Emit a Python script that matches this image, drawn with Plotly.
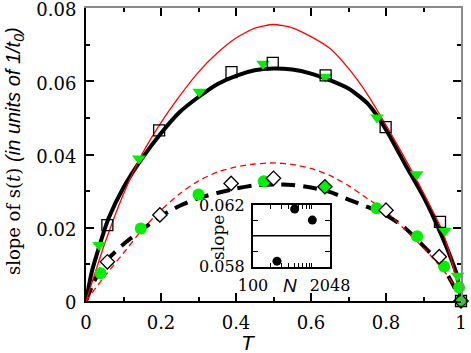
import plotly.graph_objects as go

# curves
t_fit = [0, 0.015, 0.035, 0.06, 0.1, 0.15, 0.2, 0.25, 0.3, 0.35, 0.4, 0.45, 0.5,
         0.55, 0.6, 0.65, 0.7, 0.75, 0.8, 0.85, 0.9, 0.95, 0.975, 0.99, 1.0]
s_fit = [0, 0.0078, 0.0148, 0.0225, 0.031, 0.039, 0.0458, 0.0516, 0.0557, 0.0592, 0.0615, 0.063, 0.0635,
         0.0632, 0.0621, 0.0603, 0.058, 0.054, 0.0468, 0.0375, 0.0285, 0.0175, 0.0112, 0.0068, 0]

t_fit2 = [0, 0.02, 0.05, 0.1, 0.15, 0.2, 0.25, 0.3, 0.35, 0.4, 0.45, 0.5,
          0.55, 0.6, 0.65, 0.7, 0.75, 0.8, 0.85, 0.9, 0.95, 0.98, 1.0]
s_fit2 = [0, 0.005, 0.0105, 0.0155, 0.0195, 0.0232, 0.026, 0.0281, 0.0295, 0.0307, 0.0316, 0.0318,
          0.0317, 0.031, 0.0298, 0.0277, 0.0257, 0.0235, 0.02, 0.015, 0.0095, 0.0042, 0]

t_th = [0, 0.025, 0.05, 0.1, 0.15, 0.2, 0.25, 0.3, 0.35, 0.4, 0.45, 0.5,
        0.55, 0.6, 0.65, 0.7, 0.75, 0.8, 0.85, 0.9, 0.95, 0.975, 1.0]
s_th = [0, 0.0079, 0.0157, 0.0292, 0.0402, 0.0487, 0.056, 0.0625, 0.0677, 0.0718, 0.0745, 0.0755,
        0.0746, 0.0722, 0.069, 0.0635, 0.0565, 0.048, 0.039, 0.0295, 0.0192, 0.011, 0]

t_th2 = [0, 0.05, 0.1, 0.15, 0.2, 0.25, 0.3, 0.35, 0.4, 0.45, 0.5,
         0.55, 0.6, 0.65, 0.7, 0.75, 0.8, 0.85, 0.9, 0.95, 0.98, 1.0]
s_th2 = [0, 0.0068, 0.0131, 0.0195, 0.0248, 0.0293, 0.0328, 0.0352, 0.0366, 0.0374, 0.0377,
         0.0373, 0.0362, 0.0343, 0.0315, 0.028, 0.0245, 0.0195, 0.0145, 0.0088, 0.0045, 0]

# symbols
t_sq = [0.057, 0.195, 0.388, 0.498, 0.639, 0.799, 0.944, 1.0]
s_sq = [0.0207, 0.0466, 0.0625, 0.065, 0.0616, 0.0475, 0.0216, 0.0]
t_tri = [0.035, 0.141, 0.302, 0.472, 0.638, 0.776, 0.882, 0.957, 0.991]
s_tri = [0.0153, 0.0389, 0.0571, 0.0648, 0.0612, 0.0501, 0.0346, 0.0192, 0.0069]
t_dia = [0.057, 0.197, 0.387, 0.5, 0.8, 0.942]
s_dia = [0.0107, 0.0235, 0.0321, 0.0335, 0.0248, 0.0121]
t_gdia = [0.637, 1.0]
s_gdia = [0.0312, 0.0]
t_circ = [0.039, 0.146, 0.3, 0.474, 0.775, 0.883, 0.955, 0.995]
s_circ = [0.0076, 0.0198, 0.0291, 0.0327, 0.0253, 0.0177, 0.0094, 0.0037]

# inset
n_ins = [256, 512, 1024, 2048]
slope_ins = [0.05835, 0.06174, 0.06102, 0.05992]
n_ref = [100, 2048]
slope_ref = [0.060, 0.060]

GREEN = "#00f000"
SERIF = "DejaVu Serif"
SANS = "Liberation Sans"

fig = go.Figure()

fig.add_trace(go.Scatter(x=t_fit, y=s_fit, mode="lines", line=dict(color="black", width=4, shape="spline", smoothing=0.6)))
fig.add_trace(go.Scatter(x=t_fit2, y=s_fit2, mode="lines", line=dict(color="black", width=4, dash="14px,8px", shape="spline", smoothing=0.6)))
fig.add_trace(go.Scatter(x=t_th, y=s_th, mode="lines", line=dict(color="red", width=1.3, shape="spline", smoothing=0.6)))
fig.add_trace(go.Scatter(x=t_th2, y=s_th2, mode="lines", line=dict(color="red", width=1.3, dash="6px,4px", shape="spline", smoothing=0.6)))

fig.add_trace(go.Scatter(x=t_circ, y=s_circ, mode="markers", cliponaxis=False,
                         marker=dict(symbol="circle", size=12, color=GREEN, line=dict(width=0))))
fig.add_trace(go.Scatter(x=t_dia, y=s_dia, mode="markers", cliponaxis=False,
                         marker=dict(symbol="diamond", size=11, color="white", line=dict(color="black", width=1.3))))
fig.add_trace(go.Scatter(x=t_gdia, y=s_gdia, mode="markers", cliponaxis=False,
                         marker=dict(symbol="diamond", size=11, color=GREEN, line=dict(color="black", width=1.3))))
fig.add_trace(go.Scatter(x=t_tri, y=s_tri, mode="markers", cliponaxis=False,
                         marker=dict(symbol="triangle-down", size=12, color=GREEN, line=dict(width=0))))
fig.add_trace(go.Scatter(x=t_sq, y=s_sq, mode="markers", cliponaxis=False,
                         marker=dict(symbol="square-open", size=11, color="black", line=dict(color="black", width=1.3))))

# inset
fig.add_trace(go.Scatter(x=n_ref, y=slope_ref, mode="lines", xaxis="x3", yaxis="y3",
                         line=dict(color="black", width=1.5)))
fig.add_trace(go.Scatter(x=n_ins, y=slope_ins, mode="markers", xaxis="x3", yaxis="y3", cliponaxis=False,
                         marker=dict(symbol="circle", size=9, color="black")))

tickfont = dict(family=SERIF, size=18, color="black")
fig.update_layout(
    width=471, height=353,
    margin=dict(l=86, r=10, t=8, b=52, autoexpand=False),
    paper_bgcolor="white", plot_bgcolor="white",
    showlegend=False,
    xaxis=dict(range=[0, 1], automargin=False, showgrid=False, zeroline=False, showline=True, mirror="ticks",
               linecolor="black", linewidth=2, ticklabeloverflow="allow",
               ticks="inside", ticklen=8, tickwidth=1.5, tickcolor="black", tickvals=[0, 0.2, 0.4, 0.6, 0.8, 1],
               ticktext=["0", "0.2", "0.4", "0.6", "0.8", "1"], tickfont=tickfont, ticklabelstandoff=4,
               minor=dict(tickvals=[0.1, 0.3, 0.5, 0.7, 0.9], ticks="inside", ticklen=4, tickwidth=1.5, tickcolor="black")),
    yaxis=dict(range=[0, 0.08], automargin=False, showgrid=False, zeroline=False, showline=True, mirror="ticks",
               linecolor="black", linewidth=2, ticklabeloverflow="allow", ticklabelshift=2,
               ticks="inside", ticklen=8, tickwidth=1.5, tickcolor="black", tickvals=[0, 0.02, 0.04, 0.06, 0.08],
               ticktext=["0", "0.02", "0.04", "0.06", "0.08"], tickfont=tickfont, ticklabelstandoff=4,
               minor=dict(tickvals=[0.01, 0.03, 0.05, 0.07], ticks="inside", ticklen=4, tickwidth=1.5, tickcolor="black")),
    xaxis3=dict(type="log", range=[2, 3.3113], domain=[0.4453, 0.6507], anchor="y3", automargin=False,
                showgrid=False, zeroline=False,
                showline=True, mirror="ticks", linecolor="black", linewidth=2, ticks="inside", ticklen=5, tickwidth=1,
                tickcolor="black", tickvals=[100, 2048], ticktext=["100", "2048"],
                tickfont=dict(family=SERIF, size=16, color="black"), ticklabelstandoff=3,
                minor=dict(tickvals=[200, 300, 400, 500, 600, 700, 800, 900, 1000, 2000], ticks="inside",
                           ticklen=4, tickwidth=1, tickcolor="black")),
    yaxis3=dict(range=[0.058, 0.062], domain=[0.1177, 0.3276], anchor="x3", automargin=False,
                showgrid=False, zeroline=False,
                showline=True, mirror="ticks", linecolor="black", linewidth=2, ticks="inside", ticklen=5, tickwidth=1,
                tickcolor="black", tickvals=[0.058, 0.062], ticktext=["0.058", "0.062"],
                tickfont=dict(family=SERIF, size=16, color="black"), ticklabelstandoff=3,
                minor=dict(tickvals=[0.059, 0.060, 0.061], ticks="inside", ticklen=5, tickwidth=1, tickcolor="black")),
)

# gray top and right frame lines over the mirrored ones
px_x = 1 / 375
px_y = 1 / 293
fig.add_shape(type="line", xref="paper", yref="paper", x0=-2 * px_x, x1=1 + 2 * px_x, y0=1 + px_y, y1=1 + px_y,
              line=dict(color="#8a8a8a", width=2), layer="above")
fig.add_shape(type="line", xref="paper", yref="paper", x0=1 + px_x, x1=1 + px_x, y0=-2 * px_y, y1=1 + 2 * px_y,
              line=dict(color="#8a8a8a", width=2), layer="above")

ytitle = ('slope of s(<i>t</i>) <span style="font-family:Liberation Sans;font-size:20px">'
          '<i>(in units of 1/t<sub>0</sub>)</i></span>')
fig.add_annotation(text=ytitle, xref="paper", yref="paper", x=-0.189, y=0.512, xanchor="center", yanchor="middle",
                   textangle=-90, showarrow=False, font=dict(family=SERIF, size=18, color="black"))
fig.add_annotation(text="<i>T</i>", xref="paper", yref="paper", x=0.432, y=-0.14, xanchor="center", yanchor="middle",
                   showarrow=False, font=dict(family=SANS, size=21, color="black"))
fig.add_annotation(text="slope", xref="paper", yref="paper", x=0.352, y=0.215, xanchor="center", yanchor="middle",
                   textangle=-90, showarrow=False, font=dict(family=SERIF, size=17, color="black"))
fig.add_annotation(text="<i>N</i>", xref="paper", yref="paper", x=0.544, y=0.0546, xanchor="center", yanchor="middle",
                   showarrow=False, font=dict(family=SANS, size=19, color="black"))

fig.write_html("out.html", config={"displayModeBar": False},
               post_script="document.body.style.margin='0px';")
